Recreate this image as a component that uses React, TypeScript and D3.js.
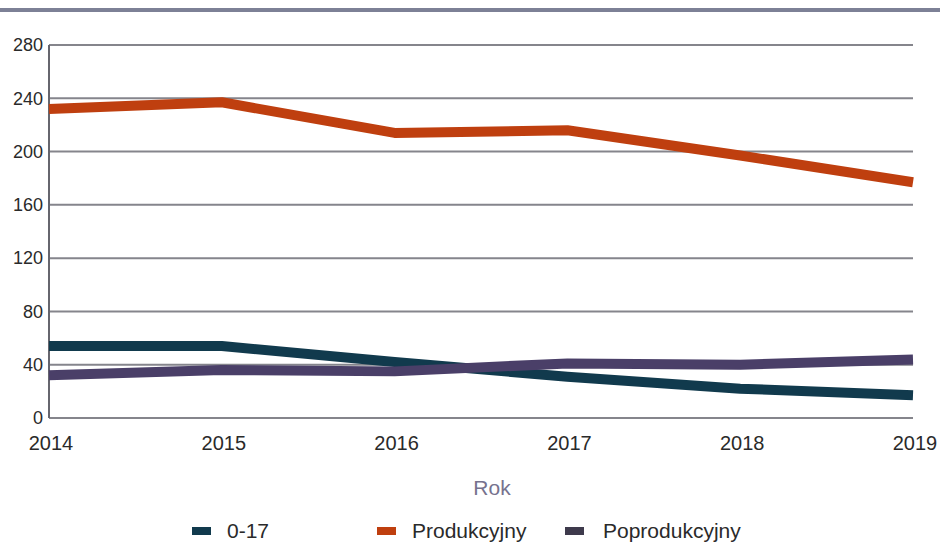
import { useEffect, useRef } from 'react'
import * as d3 from 'd3'

const years = [2014, 2015, 2016, 2017, 2018, 2019]
const youth = [54, 54, 42, 31, 22, 17]
const working = [232, 237, 214, 216, 197, 177]
const retired = [32, 36, 35, 41, 40, 44]
const yTicks = [0, 40, 80, 120, 160, 200, 240, 280]

const series = [
  { name: '0-17', values: youth, color: '#113a4d' },
  { name: 'Produkcyjny', values: working, color: '#bf3f0f' },
  { name: 'Poprodukcyjny', values: retired, color: '#4a3f68' },
]

const width = 940
const height = 545
const font = 'Liberation Sans, Arial, sans-serif'

export default function App() {
  const svgRef = useRef<SVGSVGElement>(null)

  useEffect(() => {
    if (!svgRef.current) return
    const svg = d3.select(svgRef.current)
    svg.selectAll('*').remove()

    const left = 49, right = 913, top = 45, bottom = 418
    const x = d3.scaleLinear().domain([2014, 2019]).range([left, right])
    const y = d3.scaleLinear().domain([0, 280]).range([bottom, top])

    // rule under the (cropped) title
    svg.append('line')
      .attr('x1', 0).attr('x2', width)
      .attr('y1', 10).attr('y2', 10)
      .style('stroke', '#7d8196')
      .style('stroke-width', 4)

    // grid
    svg.append('g').selectAll('line')
      .data(yTicks)
      .enter().append('line')
      .attr('x1', left).attr('x2', right)
      .attr('y1', d => y(d)).attr('y2', d => y(d))
      .style('stroke', '#85858c')
      .style('stroke-width', 2)

    svg.append('line')
      .attr('x1', left).attr('x2', left)
      .attr('y1', top).attr('y2', bottom)
      .style('stroke', '#66666e')
      .style('stroke-width', 2)

    svg.append('g').selectAll('text')
      .data(yTicks)
      .enter().append('text')
      .attr('x', left - 6)
      .attr('y', d => y(d))
      .attr('dy', '0.35em')
      .attr('text-anchor', 'end')
      .style('font-family', font)
      .style('font-size', '18px')
      .style('fill', '#2a2a2a')
      .text(d => d)

    svg.append('g').selectAll('text')
      .data(years)
      .enter().append('text')
      .attr('x', d => x(d) + 2)
      .attr('y', 450)
      .attr('text-anchor', 'middle')
      .style('font-family', font)
      .style('font-size', '20px')
      .style('fill', '#2a2a2a')
      .text(d => d)

    svg.append('text')
      .attr('x', 492).attr('y', 495)
      .attr('text-anchor', 'middle')
      .style('font-family', font)
      .style('font-size', '21px')
      .style('fill', '#76728e')
      .text('Rok')

    const line = d3.line<number>()
      .x((_, i) => x(years[i]))
      .y(d => y(d))

    svg.append('g').selectAll('path')
      .data(series)
      .enter().append('path')
      .attr('d', d => line(d.values))
      .style('fill', 'none')
      .style('stroke', d => d.color)
      .style('stroke-width', 10)
      .style('stroke-linejoin', 'round')

    const legendX = [192, 377, 565]
    const legend = svg.append('g').selectAll('g')
      .data(series)
      .enter().append('g')
      .attr('transform', (_, i) => `translate(${legendX[i]}, 531)`)
    legend.append('rect')
      .attr('x', 0).attr('y', -4)
      .attr('width', 19).attr('height', 8)
      .style('fill', (d, i) => (i === 2 ? '#3e3a4c' : d.color))
    legend.append('text')
      .attr('x', (_, i) => (i === 2 ? 38 : 35))
      .attr('dy', '0.35em')
      .style('font-family', font)
      .style('font-size', '21px')
      .style('fill', '#2a2a2a')
      .text(d => d.name)
  }, [])

  return (
    <svg
      ref={svgRef}
      width={width}
      height={height}
      style={{ position: 'absolute', left: 0, top: 0, background: '#fff' }}
    />
  )
}
